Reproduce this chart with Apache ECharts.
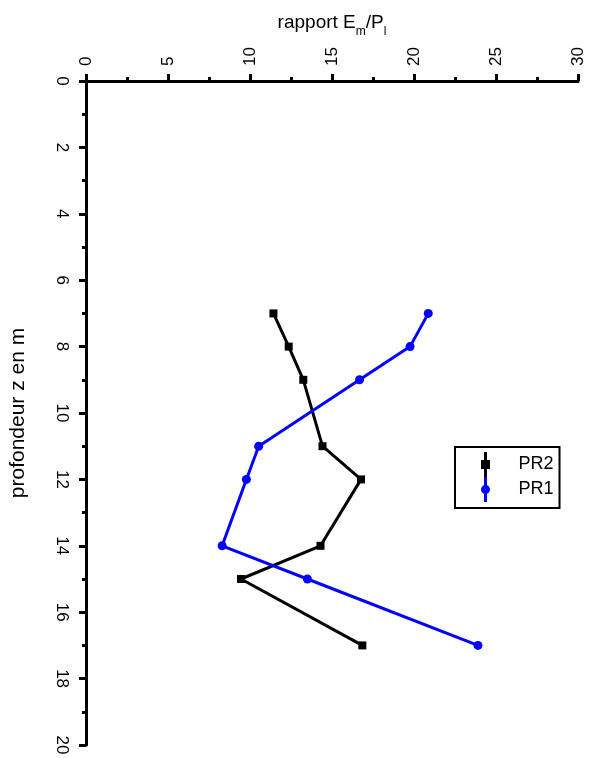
<!DOCTYPE html>
<html>
<head>
<meta charset="utf-8">
<script src="https://cdn.jsdelivr.net/npm/echarts@6/dist/echarts.min.js"></script>
<style>
  html, body { margin: 0; padding: 0; background: #fff; }
  #chart { width: 590px; height: 758px; }
</style>
</head>
<body>
<div id="chart"></div>
<script>
// profondeur (m)
const depthPR2 = [7, 8, 9, 11, 12, 14, 15, 17];
const depthPR1 = [7, 8, 9, 11, 12, 14, 15, 17];
// rapport Em/Pl
const ratioPR2 = [11.43, 12.36, 13.25, 14.42, 16.77, 14.30, 9.45, 16.85];
const ratioPR1 = [20.87, 19.76, 16.68, 10.53, 9.78, 8.30, 13.50, 23.90];

const xTicks = [0, 5, 10, 15, 20, 25, 30];
const yTicks = [0, 2, 4, 6, 8, 10, 12, 14, 16, 18, 20];

const font = "Liberation Sans, Arial, sans-serif";

const chart = echarts.init(document.getElementById("chart"));

// icones de legende : trait vertical + symbole
const iconPR2 = "path://M3.5,0 H6.5 V8 H9.5 V17 H6.5 V25 H3.5 V17 H0.5 V8 H3.5 Z";
const iconPR1 = "path://M3.5,0 H6.5 V25 H3.5 Z M0.5,12.5 A4.5,4.5 0 1,1 9.5,12.5 A4.5,4.5 0 1,1 0.5,12.5 Z";

const axisCommon = {
  axisLine: { show: true, onZero: false, lineStyle: { color: "#000", width: 3 } },
  axisTick: { show: true, inside: false, length: 7, lineStyle: { color: "#000", width: 3 } },
  minorTick: { show: true, splitNumber: 2, length: 4, lineStyle: { color: "#000", width: 3 } },
  splitLine: { show: false },
  // etiquettes tournees de 90 deg dans le sens horaire
  axisLabel: { color: "#000", fontFamily: font, fontSize: 17, rotate: -90 },
};

const option = {
  backgroundColor: "#fff",
  animation: false,
  grid: { left: 83, right: 12, top: 81, bottom: 13, containLabel: false },
  xAxis: {
    ...axisCommon,
    type: "value",
    position: "top",
    min: xTicks[0],
    max: xTicks[xTicks.length - 1],
    interval: 5,
    axisLabel: { ...axisCommon.axisLabel, margin: 15 },
    name: "{n|rapport E}{s|m}{n|/P}{s|l}",
    nameLocation: "middle",
    nameGap: 43,
    nameTextStyle: {
      rich: {
        n: { fontFamily: font, fontSize: 19, color: "#000", lineHeight: 30 },
        s: { fontFamily: font, fontSize: 12, color: "#000", lineHeight: 12, verticalAlign: "bottom" },
      },
    },
  },
  yAxis: {
    ...axisCommon,
    type: "value",
    inverse: true,
    min: yTicks[0],
    max: yTicks[yTicks.length - 1],
    interval: 2,
    axisLabel: { ...axisCommon.axisLabel, margin: 16 },
    name: "profondeur z en m",
    nameLocation: "middle",
    nameGap: 57,
    nameTextStyle: { fontFamily: font, fontSize: 21, color: "#000" },
  },
  legend: {
    orient: "vertical",
    left: 455,
    top: 447,
    padding: [5, 6, 6, 26],
    itemWidth: 10,
    itemHeight: 25,
    itemGap: 0,
    borderColor: "#000",
    borderWidth: 2,
    borderRadius: 0,
    textStyle: { fontFamily: font, fontSize: 18, color: "#000", padding: [0, 0, 0, 23] },
    data: [
      { name: "PR2", icon: iconPR2, itemStyle: { color: "#000" } },
      { name: "PR1", icon: iconPR1, itemStyle: { color: "#0000ff" } },
    ],
  },
  series: [
    {
      name: "PR2",
      type: "line",
      data: ratioPR2.map((v, i) => [v, depthPR2[i]]),
      symbol: "rect",
      symbolSize: 8,
      lineStyle: { color: "#000", width: 3 },
      itemStyle: { color: "#000" },
    },
    {
      name: "PR1",
      type: "line",
      data: ratioPR1.map((v, i) => [v, depthPR1[i]]),
      symbol: "circle",
      symbolSize: 9,
      lineStyle: { color: "#0000ff", width: 3 },
      itemStyle: { color: "#0000ff" },
    },
  ],
};

chart.setOption(option);
window.addEventListener("resize", () => chart.resize());
</script>
</body>
</html>
